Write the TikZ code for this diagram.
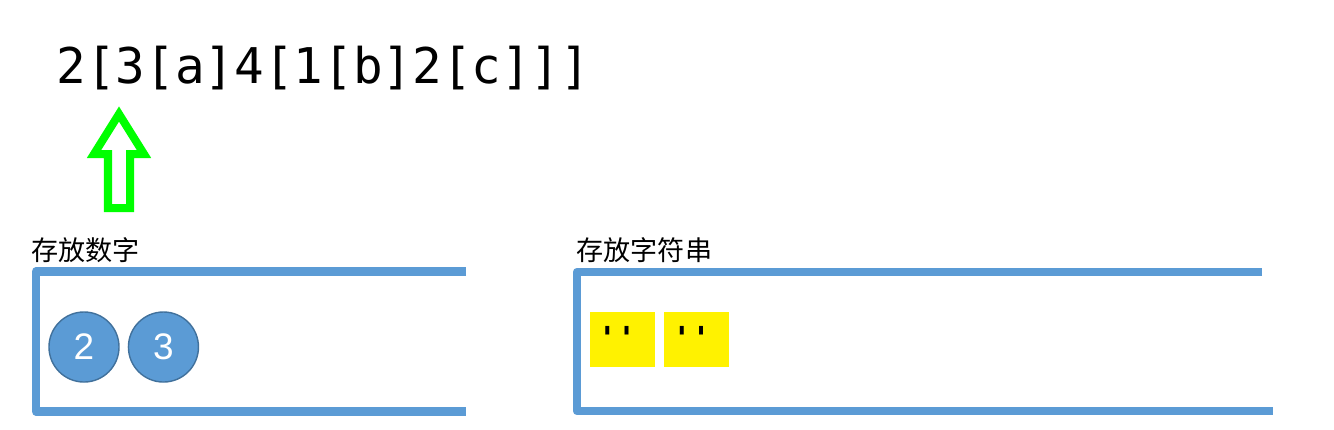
\documentclass[tikz,border=0pt]{standalone}
\usepackage{fontspec}
\setmonofont{DejaVu Sans Mono}
\setsansfont{Liberation Sans}
\newfontfamily\cjkfont{Noto Sans CJK SC}
\usepackage{tikz}
\usetikzlibrary{positioning}
\definecolor{boxblue}{RGB}{91,155,213}
\definecolor{ringblue}{RGB}{65,113,156}
\definecolor{arrowgreen}{RGB}{0,255,0}

\begin{document}
\begin{tikzpicture}[
	x=0.01cm,y=-0.01cm,
	line join=round
]
\tikzset{
    numcircle/.style = {circle, draw=ringblue, fill=boxblue, text=white, minimum size=0.7cm, inner sep=0pt, font=\sffamily\fontsize{10.5pt}{12pt}\selectfont},
    strrect/.style = {rectangle, fill=yellow, inner ysep=0pt, inner xsep=0.08cm, text width=0.49cm, align=left, text height=0.37cm, text depth=0.18cm, font=\ttfamily\bfseries\fontsize{9pt}{10pt}\selectfont},
    boxline/.style = {draw=boxblue, line width=0.085cm},
    boxtitle/.style = {anchor=base west, inner sep=0pt, font=\cjkfont\fontsize{7.7pt}{9pt}\selectfont}
}
\useasboundingbox (0,0) rectangle (1334,429);
\node[anchor=base west,inner sep=0pt,font=\ttfamily\fontsize{14pt}{16pt}\selectfont] (expr) at (56,83) {2[3[a]4[1[b]2[c]]]};
\draw[draw=arrowgreen,line width=0.08cm,line join=miter] (119,114) -- (144,154) -- (130,154) -- (130,208) -- (108,208) -- (108,154) -- (94,154) -- cycle;
\node[boxtitle] (numtitle) at (31,260) {存放数字};
\node[boxtitle] (strtitle) at (576,260) {存放字符串};
\draw[boxline] (466,271.5) -- (36,271.5) -- (36,411.5) -- (466,411.5);
\draw[boxline] (1262,272) -- (577,272) -- (577,411) -- (1273,411);
\node[numcircle] (num1) at (84,347) {2};
\node[numcircle,right=0.08cm of num1] (num2) {3};
\node[strrect] (str1) at (622.5,339.5) {\textquotesingle\textquotesingle};
\node[strrect,right=0.08cm of str1] (str2) {\textquotesingle\textquotesingle};
\end{tikzpicture}
\end{document}
